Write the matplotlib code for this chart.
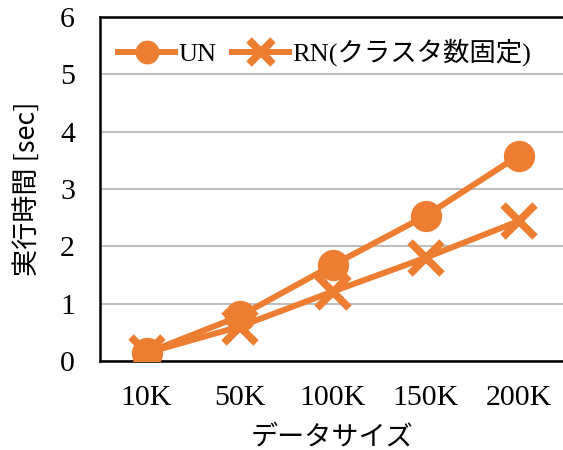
import matplotlib.pyplot as plt

plt.rcParams['font.family'] = ['Liberation Serif', 'Noto Sans CJK JP']

# Data
sizes = ["10K", "50K", "100K", "150K", "200K"]
un_times = [0.14, 0.78, 1.67, 2.53, 3.58]
rn_times = [0.14, 0.60, 1.21, 1.80, 2.44]
yticks = [0, 1, 2, 3, 4, 5, 6]

orange = "#ED7D31"

fig = plt.figure(figsize=(5.63, 4.5), dpi=100)
ax = fig.add_axes([100 / 563, 89 / 450, 465 / 563, 344 / 450])

x = list(range(len(sizes)))
# UN circles sit on top of the RN crosses
ax.plot(x, un_times, color=orange, lw=4.3, marker="o", markersize=21.5,
        label="UN", zorder=4)
ax.plot(x, rn_times, color=orange, lw=4.3, marker="x", markersize=23,
        markeredgewidth=5.5, label="RN(クラスタ数固定)", zorder=3)

ax.set_xlim(-0.5, len(sizes) - 0.5)
ax.set_ylim(0, 6)
ax.set_yticks(yticks)
ax.set_xticks(x)
ax.set_xticklabels(sizes)
ax.tick_params(axis="both", length=0, labelsize=21.5)
ax.tick_params(axis="y", pad=18)
ax.tick_params(axis="x", pad=17)

ax.yaxis.grid(True, color="#BFBFBF", lw=1.5)
ax.set_axisbelow(True)
for side in ["left", "bottom", "top"]:
    ax.spines[side].set_color("black")
    ax.spines[side].set_linewidth(1.8)
ax.spines["right"].set_visible(False)

ax.set_ylabel("実行時間 [sec]", fontsize=19.5, family=["Noto Sans CJK JP"],
              labelpad=14)
ax.set_xlabel("データサイズ", fontsize=19.5, family=["Noto Sans CJK JP"],
              labelpad=10)

ax.legend(loc="upper left", bbox_to_anchor=(0.0, 0.99), frameon=False,
          fontsize=19, handlelength=2.15, handletextpad=0.12,
          columnspacing=0.6, ncol=2, borderaxespad=0.3, markerscale=0.75)

fig.savefig("out.png", dpi=100)
